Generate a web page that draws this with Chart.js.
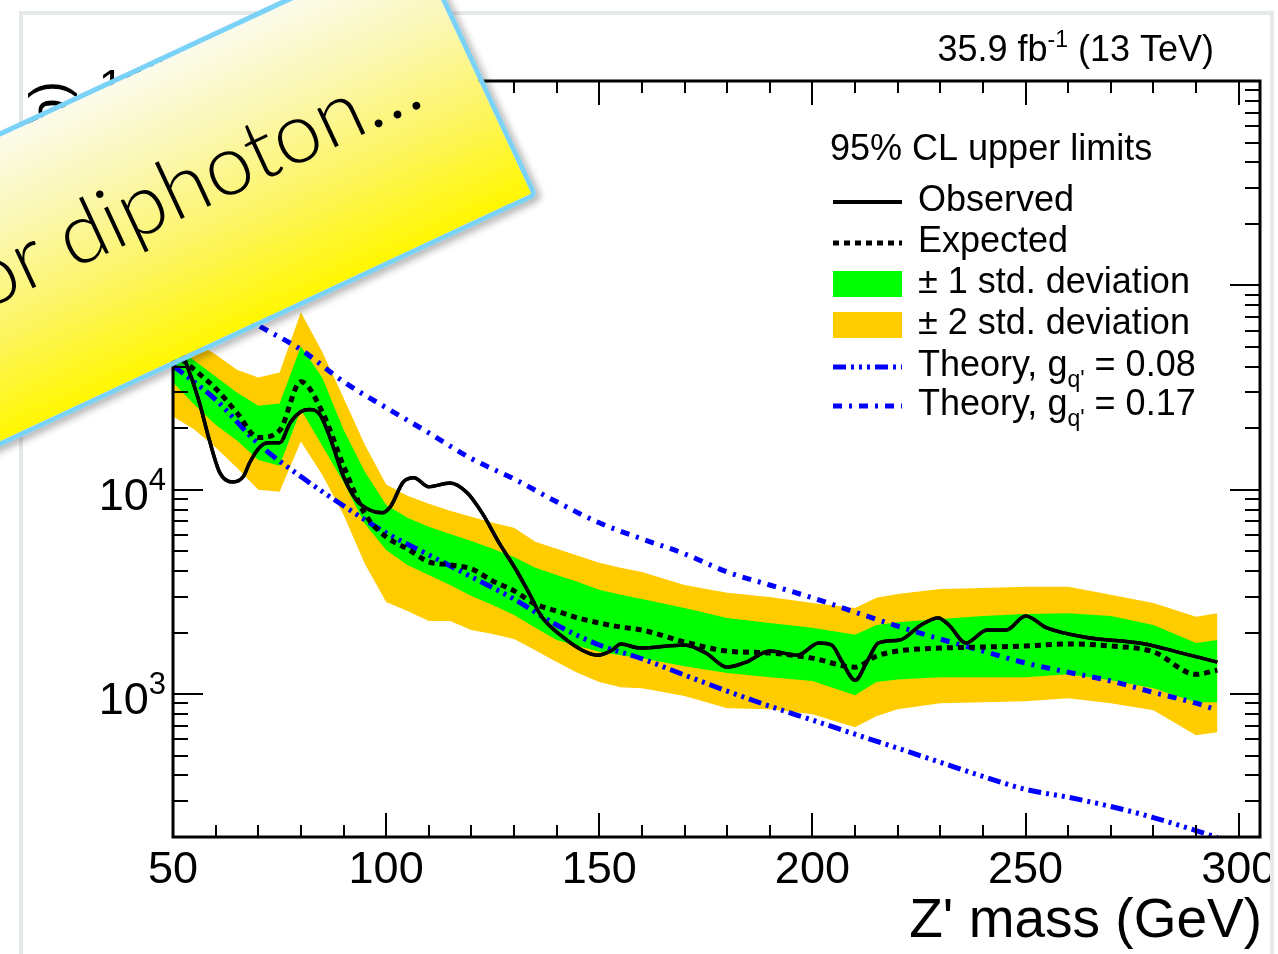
<!DOCTYPE html>
<html>
<head>
<meta charset="utf-8">
<title>Z' mass limits</title>
<script src="https://cdn.jsdelivr.net/npm/chart.js@4.4.1/dist/chart.umd.min.js"></script>
<style>
  html, body { margin: 0; padding: 0; background: #fff; overflow: hidden; }
  #slide { position: absolute; left: 0; top: 0; width: 1270px; height: 954px; overflow: hidden; }
  #slide canvas { display: block; }
  #frame {
    position: absolute; left: 19px; top: 11px; width: 1255px; height: 1000px;
    border: 4px solid #e6e9e9; box-sizing: border-box; pointer-events: none;
  }
  #note {
    position: absolute; left: -162px; top: -90px; width: 700px; height: 286px;
    box-sizing: border-box; border: 5px solid #7ad2f6; border-radius: 7px;
    transform-origin: 100% 100%; transform: rotate(-25deg);
    background: linear-gradient(to bottom, #fcfbeb 0%, #fbf7b4 30%, #fdf569 62%, #fff700 100%);
    box-shadow: 3px 5px 7px rgba(0, 0, 0, 0.28);
    z-index: 5;
  }
  #note span {
    position: absolute; right: 57px; top: 76px;
    font-family: Lato, Roboto, "Open Sans", sans-serif; font-weight: 300;
    font-size: 85px; line-height: 1; white-space: nowrap; color: #000;
  }
</style>
</head>
<body>
<div id="slide"><canvas id="limitChart" width="1278" height="954"></canvas></div>
<div id="frame"></div>
<div id="note"><span>or diphoton…</span></div>
<script>
// mass points of the expected limit and its bands (GeV)
const massPts = [50, 55, 60, 65, 70, 75, 80, 85, 90, 95, 100, 105, 110, 115, 120, 125, 130, 135, 140, 145,
  150, 155, 160, 170, 180, 190, 200, 210, 215, 220, 230, 240, 250, 260, 270, 280, 290, 295];

const twoSigmaUp = [60800, 53100, 45900, 38700, 35400, 37500, 73800, 47400, 28200, 16600, 10600, 9350, 8540,
  7890, 7380, 6890, 6510, 5560, 5140, 4750, 4390, 4150, 3960, 3420, 3130, 2990, 2790, 2640, 2960, 3090,
  3270, 3310, 3350, 3350, 3060, 2790, 2390, 2490];
const oneSigmaUp = [50800, 42900, 35800, 29900, 25800, 26400, 50200, 35400, 19700, 12250, 8440, 7290, 6590,
  6080, 5620, 5140, 4690, 4150, 3830, 3540, 3240, 3060, 2920, 2640, 2360, 2230, 2110, 1950, 2180, 2250,
  2330, 2410, 2470, 2490, 2410, 2180, 1780, 1840];
const expected = [47400, 38700, 31300, 23800, 18000, 19500, 33800, 24100, 13100, 7630, 5880, 5140, 4440,
  4290, 4100, 3580, 3200, 2760, 2550, 2360, 2230, 2130, 2060, 1800, 1625, 1590, 1500, 1355, 1535, 1625,
  1680, 1700, 1720, 1760, 1720, 1610, 1250, 1310];
const oneSigmaDown = [33500, 26100, 20800, 17400, 14000, 13100, 24700, 16400, 10900, 6810, 5080, 4290, 3830,
  3420, 3020, 2730, 2440, 2110, 1840, 1720, 1610, 1550, 1500, 1370, 1270, 1210, 1160, 989, 1145, 1180,
  1210, 1210, 1210, 1250, 1170, 1070, 914, 914];
const twoSigmaDown = [22800, 19700, 16100, 12800, 10000, 9770, 17200, 11850, 7540, 4340, 2820, 2550, 2280,
  2280, 2060, 1970, 1860, 1640, 1435, 1270, 1145, 1080, 1070, 978, 854, 844, 798, 689, 780, 844,
  903, 914, 924, 956, 903, 835, 630, 651];

// observed limit, finer mass steps
const obsMass = [50, 53, 56, 58.5, 61, 64, 66.5, 68, 70.5, 72.5, 75, 77.5, 80, 82, 84.5, 87, 90, 93, 96, 99,
  101, 104, 106.5, 110, 115, 119, 122.5, 126.5, 130.5, 133.5, 136.5, 141.5, 146, 149.5, 153, 155, 159.5,
  170, 175, 180, 184.5, 190, 196.5, 201.5, 204.5, 207, 210, 213, 215.5, 220.5, 225.5, 229.5, 232, 236,
  241, 245.5, 250, 255, 264, 278, 285.5, 295];
const observed = [57500, 42000, 27600, 17600, 12100, 10900, 11600, 13600, 16300, 17000, 17000, 21300, 24100,
  24700, 23300, 17600, 11600, 8930, 7980, 7710, 8260, 10900, 11450, 10350, 10800, 9670, 7710, 5500, 4050,
  3130, 2390, 1900, 1640, 1550, 1640, 1760, 1680, 1740, 1590, 1355, 1435, 1625, 1550, 1780, 1740, 1435,
  1170, 1470, 1780, 1840, 2180, 2360, 2180, 1780, 2060, 2060, 2410, 2110, 1900, 1760, 1610, 1435];

// theory cross sections
const theoryMass = [50, 60, 70, 80, 90, 100, 110, 120, 130, 140, 150, 160, 170, 180, 190, 200, 210, 220, 230,
  240, 250, 260, 270, 280, 290, 295];
const theory017 = [119700, 85300, 63700, 48500, 33800, 25200, 19000, 14200, 11300, 8730, 6890, 5750, 4860,
  3960, 3420, 2960, 2520, 2150, 1860, 1625, 1420, 1280, 1160, 1020, 903, 835];
const theory008 = [40500, 27600, 16800, 11600, 8350, 6150, 4800, 3750, 2920, 2180, 1740, 1490, 1240, 1035,
  873, 746, 637, 544, 464, 396, 342, 313, 282, 249, 215, 199];

const xTickValues = [50, 100, 150, 200, 250, 300];
const yDecades = [3, 4, 5, 6];

const FONT = '"Liberation Sans", Arial, Helvetica, sans-serif';
const GREEN = '#00ff00';
const YELLOW = '#ffcc00';
const BLUE = '#0000ff';
const DASH_EXP = [6, 5];
const DASH_T017 = [9, 7, 3, 7];
const DASH_T008 = [13, 5, 3, 5, 3, 5, 3, 5];

const toPts = (xs, ys) => xs.map((x, i) => ({ x: x, y: ys[i] }));

function band(values, fillTo, color, order) {
  return {
    data: toPts(massPts, values), fill: fillTo, backgroundColor: color,
    borderColor: 'transparent', borderWidth: 0, tension: 0, order: order
  };
}

function curve(xs, ys, color, width, dash, order) {
  return {
    data: toPts(xs, ys), fill: false, borderColor: color, borderWidth: width,
    borderDash: dash, borderCapStyle: 'butt', cubicInterpolationMode: 'monotone', order: order
  };
}

// text with a raised (rise > 0) or lowered (rise < 0) small part in the middle
function richText(ctx, parts, x, baseline, align) {
  let total = 0;
  parts.forEach(p => { ctx.font = p.size + 'px ' + FONT; p.w = ctx.measureText(p.t).width; total += p.w; });
  let cx = align === 'right' ? x - total : x;
  ctx.textAlign = 'left';
  parts.forEach(p => {
    ctx.font = p.size + 'px ' + FONT;
    ctx.fillText(p.t, cx, baseline - (p.rise || 0));
    cx += p.w;
  });
}

const rootAxes = {
  id: 'rootAxes',
  afterDatasetsDraw(chart) {
    const { ctx, chartArea: a, scales: { x, y } } = chart;
    const ds = chart.data.datasets;
    ctx.save();
    ctx.fillStyle = '#000';
    ctx.strokeStyle = '#000';
    ctx.textBaseline = 'alphabetic';

    const seg = (x1, y1, x2, y2) => { ctx.beginPath(); ctx.moveTo(x1, y1); ctx.lineTo(x2, y2); ctx.stroke(); };

    // ticks on all four sides
    ctx.lineWidth = 2;
    for (let m = 50; m <= 300; m += 10) {
      const px = Math.round(x.getPixelForValue(m));
      const len = m % 50 === 0 ? 24 : 12;
      seg(px, a.bottom, px, a.bottom - len);
      seg(px, a.top, px, a.top + len);
    }
    for (let d = 2; d <= 6; d++) {
      for (let k = 1; k <= 9; k++) {
        const v = k * Math.pow(10, d);
        if (v < 200 || v > 1e6) continue;
        const py = Math.round(y.getPixelForValue(v));
        const len = k === 1 ? 30 : 15;
        seg(a.left, py, a.left + len, py);
        seg(a.right, py, a.right - len, py);
      }
    }
    ctx.lineWidth = 3;
    ctx.strokeRect(a.left, a.top, a.right - a.left, a.bottom - a.top);

    // tick labels
    ctx.font = '45px ' + FONT;
    ctx.textAlign = 'center';
    xTickValues.forEach(v => ctx.fillText(String(v), x.getPixelForValue(v), a.bottom + 46));
    yDecades.forEach(d => {
      const py = y.getPixelForValue(Math.pow(10, d));
      richText(ctx, [{ t: '10', size: 45 }, { t: String(d), size: 31, rise: 20 }], a.left - 7, py + 20, 'right');
    });

    // axis titles
    ctx.font = '55px ' + FONT;
    ctx.textAlign = 'right';
    ctx.fillText("Z' mass (GeV)", 1262, 937);
    ctx.save();
    ctx.translate(66, a.top);
    ctx.rotate(-Math.PI / 2);
    ctx.font = '52px ' + FONT;
    ctx.textAlign = 'right';
    ctx.fillText('σ B (pb)', 0, 0);
    ctx.restore();

    // luminosity label
    richText(ctx, [{ t: '35.9 fb', size: 36 }, { t: '-1', size: 23, rise: 14 }, { t: ' (13 TeV)', size: 36 }],
      1214, 61, 'right');

    // legend
    ctx.font = '36px ' + FONT;
    ctx.textAlign = 'left';
    ctx.fillText('95% CL upper limits', 830, 160);
    const sx1 = 833, sx2 = 902, tx = 918;
    const rows = [
      { y: 202, ds: ds[6], text: [{ t: 'Observed', size: 36 }] },
      { y: 243, ds: ds[5], text: [{ t: 'Expected', size: 36 }] },
      { y: 284, box: GREEN, text: [{ t: '± 1 std. deviation', size: 36 }] },
      { y: 325, box: YELLOW, text: [{ t: '± 2 std. deviation', size: 36 }] },
      { y: 367, ds: ds[8], text: [{ t: 'Theory, g', size: 36 }, { t: "q'", size: 23, rise: -11 }, { t: ' = 0.08', size: 36 }] },
      { y: 406, ds: ds[7], text: [{ t: 'Theory, g', size: 36 }, { t: "q'", size: 23, rise: -11 }, { t: ' = 0.17', size: 36 }] }
    ];
    rows.forEach(r => {
      if (r.box) {
        ctx.fillStyle = r.box;
        ctx.fillRect(sx1, r.y - 13, sx2 - sx1, 26);
      } else {
        ctx.strokeStyle = r.ds.borderColor;
        ctx.lineWidth = Math.max(r.ds.borderWidth, 4);
        ctx.setLineDash(r.ds.borderDash || []);
        seg(sx1, r.y, sx2, r.y);
        ctx.setLineDash([]);
      }
      ctx.fillStyle = '#000';
      richText(ctx, r.text, tx, r.y + 9, 'left');
    });
    ctx.restore();
  }
};

new Chart(document.getElementById('limitChart'), {
  type: 'line',
  data: {
    datasets: [
      band(twoSigmaUp, '+1', YELLOW, 9),
      band(twoSigmaDown, false, YELLOW, 9),
      band(oneSigmaUp, '+1', GREEN, 8),
      band(oneSigmaDown, false, GREEN, 8),
      curve(obsMass, observed, '#000', 3.5, [], 1),
      curve(massPts, expected, '#000', 5, DASH_EXP, 2),
      curve(obsMass, observed, '#000', 3.5, [], 1),
      curve(theoryMass, theory017, BLUE, 5, DASH_T017, 3),
      curve(theoryMass, theory008, BLUE, 5, DASH_T008, 3)
    ]
  },
  options: {
    responsive: false,
    animation: false,
    devicePixelRatio: 1,
    layout: { padding: { left: 173, top: 81, right: 18, bottom: 117 } },
    elements: { point: { radius: 0 } },
    scales: {
      x: { type: 'linear', min: 50, max: 305, display: false },
      y: { type: 'logarithmic', min: 200, max: 1e6, display: false }
    },
    plugins: {
      legend: { display: false },
      tooltip: { enabled: false },
      filler: { propagate: false }
    }
  },
  plugins: [rootAxes]
});
</script>
</body>
</html>
